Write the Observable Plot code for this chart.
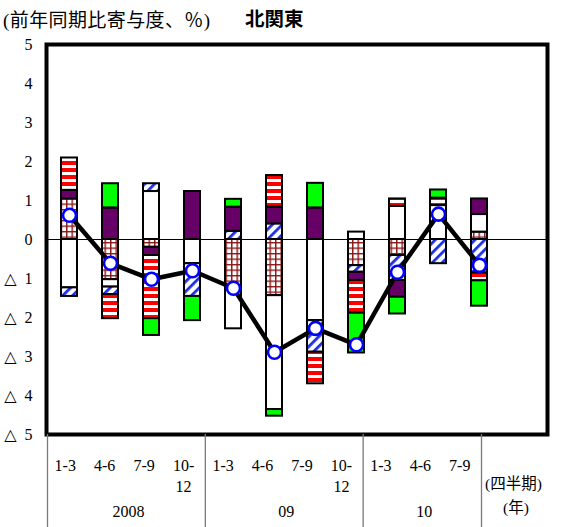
<!DOCTYPE html>
<html>
<head>
<meta charset="utf-8">
<script src="https://cdn.jsdelivr.net/npm/d3@7"></script>
<script src="https://cdn.jsdelivr.net/npm/@observablehq/plot@0.6"></script>
<style>
  body { margin: 0; background: #fff; }
  #chart { position: relative; width: 587px; height: 527px; overflow: hidden;
           font-family: "Liberation Serif", "DejaVu Serif", "Noto Sans CJK JP", serif; color: #000; }
  #chart svg { position: absolute; left: 0; }
  .txt { position: absolute; white-space: nowrap; line-height: 1; }
</style>
</head>
<body>
<div id="chart"></div>
<script>
// Quarters and years shown along the bottom axis
const years = ["2008", "09", "10"];
const quarterLabels = ["1-3", "4-6", "7-9", "10-\n12"];
const quartersPerYear = [4, 4, 3];

// Contributions by component (percentage points), one value per quarter
const gridValues   = [1.04, -1.03, -0.20, 0, -1.30, -1.44, 0, -0.67, -0.41, 0, 0.19];
const whiteValues  = [-1.24, -0.19, 1.23, -0.62, -0.99, -2.92, -2.08, 0.19, 0.85, 0.87, 0.45];
const diagValues   = [-0.22, -0.19, 0.20, -0.84, 0.21, 0.40, -0.81, -0.17, -0.64, -0.62, -0.86];
const purpleValues = [0.22, 0.81, -0.21, 1.23, 0.62, 0.43, 0.81, -0.21, -0.43, 0, 0.40];
const stripeValues = [0.83, -0.62, -1.62, 0, 0, 0.81, -0.81, -0.84, 0.19, 0.19, -0.20];
const greenValues  = [0, 0.62, -0.43, -0.62, 0.20, -0.17, 0.63, -1.02, -0.43, 0.21, -0.65];

// Year-on-year change (line with circles)
const totalValues = [0.62, -0.61, -1.02, -0.80, -1.25, -2.89, -2.28, -2.70, -0.84, 0.65, -0.66];

// Y ticks
const yTicks = [5, 4, 3, 2, 1, 0, -1, -2, -3, -4, -5];

// Stack order (bottom to top for positives, top to bottom for negatives)
const seriesNames = ["grid", "white", "diag", "purple", "stripe", "green"];
const seriesValues = [gridValues, whiteValues, diagValues, purpleValues, stripeValues, greenValues];
const seriesFills = ["url(#pat-grid)", "#ffffff", "url(#pat-diag)", "#660066", "url(#pat-stripe)", "#00ff00"];

// Every quarter slot of the three years; the last one has no data yet
const slots = years.flatMap(y => quarterLabels.map(q => y + "/" + q));
const periods = slots.slice(0, totalValues.length);

const rows = seriesNames.flatMap((s, k) =>
  seriesValues[k].map((v, i) => ({period: periods[i], series: s, value: v}))
).filter(d => d.value !== 0);

const totals = totalValues.map((v, i) => ({period: periods[i], value: v}));

const fontStack = '"Liberation Serif", "DejaVu Serif", "Noto Sans CJK JP", serif';

const main = Plot.plot({
  width: 587,
  height: 527,
  marginTop: 44,
  marginBottom: 93,
  marginLeft: 46,
  marginRight: 40,
  style: {fontFamily: fontStack, fontSize: "16px", background: "transparent", color: "#000"},
  x: {domain: slots, axis: null, paddingInner: 0.6, paddingOuter: 0.3, insetLeft: 1, insetRight: 5},
  y: {
    domain: [-5, 5],
    ticks: yTicks,
    tickSize: 0,
    tickPadding: 14,
    label: null,
    tickFormat: d => d < 0 ? "\u25B3\u2002" + (-d) : String(d)
  },
  color: {domain: seriesNames, range: seriesFills},
  marks: [
    Plot.ruleY([0], {stroke: "#000", strokeWidth: 1.2}),
    Plot.barY(rows, {
      x: "period", y: "value", z: "series", fill: "series",
      order: seriesNames, stroke: "#000", strokeWidth: 2
    }),
    Plot.line(totals, {x: "period", y: "value", stroke: "#000", strokeWidth: 4.5}),
    Plot.dot(totals, {x: "period", y: "value", r: 6.5, fill: "#fff", stroke: "#0000ff", strokeWidth: 2.6}),
    Plot.frame({stroke: "#000", strokeWidth: 4})
  ]
});

// Fill patterns used by the bars
d3.select(main).insert("defs", ":first-child").html(`
  <pattern id="pat-stripe" patternUnits="userSpaceOnUse" width="8" height="7">
    <rect width="8" height="7" fill="#ffffff"/>
    <rect width="8" height="4" fill="#ff0000"/>
  </pattern>
  <pattern id="pat-grid" patternUnits="userSpaceOnUse" width="5.5" height="5.5">
    <rect width="5.5" height="5.5" fill="#ffffff"/>
    <path d="M0 0.7H5.5M0.7 0V5.5" stroke="#8b1a1a" stroke-width="1.5"/>
  </pattern>
  <pattern id="pat-diag" patternUnits="userSpaceOnUse" width="7" height="7" patternTransform="rotate(45)">
    <rect width="7" height="7" fill="#ffffff"/>
    <rect width="2.8" height="7" fill="#1c2fe6"/>
  </pattern>
`);

// Bottom axis: quarter labels grouped into years
const yearStarts = quartersPerYear.map((n, k) => d3.sum(quartersPerYear.slice(0, k)));
const quarterCells = periods.map((p, i) => ({i, label: p.split("/")[1]}));
const yearCells = years.map((y, k) => ({label: y, mid: yearStarts[k] + quartersPerYear[k] / 2}));
const separators = [...yearStarts, periods.length];

const axisTable = Plot.plot({
  width: 587,
  height: 93,
  marginTop: 0,
  marginBottom: 0,
  marginLeft: 47,
  marginRight: 106,
  style: {fontFamily: fontStack, fontSize: "16px", background: "transparent", color: "#000"},
  x: {domain: [0, periods.length], axis: null},
  y: {domain: [0, 1], axis: null},
  marks: [
    Plot.ruleX(separators, {stroke: "#7a7a7a", strokeWidth: 1.3, y1: 0, y2: 1}),
    Plot.text(quarterCells, {
      x: d => d.i + 0.5, text: "label", frameAnchor: "top", lineAnchor: "top",
      dx: -2, dy: 22, lineHeight: 1.3, fill: "#000"
    }),
    Plot.text(yearCells, {
      x: "mid", text: "label", frameAnchor: "top", lineAnchor: "top", dx: 2, dy: 71, fill: "#000"
    })
  ]
});

const chart = document.getElementById("chart");
main.style.top = "0px";
axisTable.style.top = "434px";
chart.appendChild(main);
chart.appendChild(axisTable);

function addText(text, css) {
  const el = document.createElement("div");
  el.className = "txt";
  el.textContent = text;
  Object.assign(el.style, css);
  chart.appendChild(el);
}

addText("(前年同期比寄与度、％)", {left: "3px", top: "11px", fontSize: "19px", letterSpacing: "0.4px"});
addText("北関東", {left: "245px", top: "8px", fontSize: "19.5px", fontWeight: "bold",
  fontFamily: '"Noto Sans CJK JP", sans-serif'});
addText("(四半期)", {left: "485px", top: "476px", fontSize: "15.5px"});
addText("(年)", {left: "503px", top: "500px", fontSize: "15.5px"});
</script>
</body>
</html>
